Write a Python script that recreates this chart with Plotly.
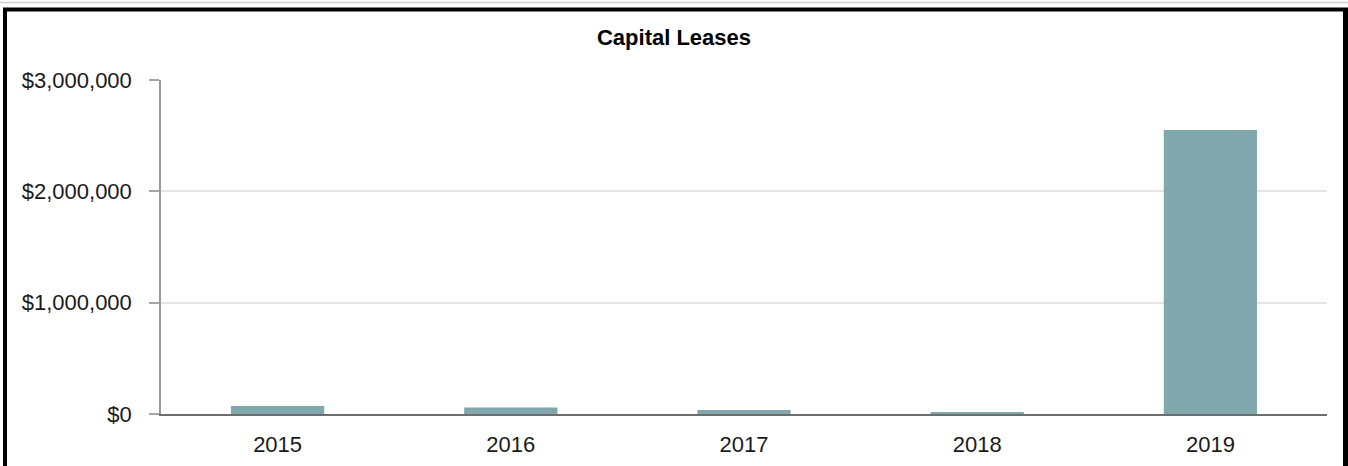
import plotly.graph_objects as go

# Capital lease amounts by fiscal year
years = ["2015", "2016", "2017", "2018", "2019"]
capital_leases = [72000, 58000, 36000, 18000, 2550000]
y_ticks = [0, 1000000, 2000000, 3000000]
y_tick_labels = ["$0", "$1,000,000", "$2,000,000", "$3,000,000"]

W, H = 1348, 466
ML, MR, MT, MB = 161, 21, 80, 52
PW, PH = W - ML - MR, H - MT - MB


def px_x(p):
    return (p - ML) / PW


def px_y(p):
    return (H - MB - p) / PH


font = "Arial, 'Liberation Sans', sans-serif"

fig = go.Figure(
    go.Bar(
        x=years,
        y=capital_leases,
        marker=dict(color="#80a8ad", line=dict(width=0)),
        hovertemplate="%{x}: $%{y:,.0f}<extra></extra>",
    )
)

fig.update_layout(
    width=W,
    height=H,
    margin=dict(l=ML, r=MR, t=MT, b=MB, pad=0, autoexpand=False),
    paper_bgcolor="white",
    plot_bgcolor="white",
    bargap=0.6,
    showlegend=False,
    font=dict(family=font, size=22, color="#1a1a1a"),
    title=dict(
        text="<b>Capital Leases</b>",
        x=0.5,
        xref="container",
        xanchor="center",
        y=1 - 37 / H,
        yref="container",
        yanchor="middle",
        font=dict(family=font, size=22, color="#000000"),
        automargin=False,
    ),
    xaxis=dict(
        automargin=False,
        showgrid=False,
        showline=True,
        linecolor="#6e6e6e",
        linewidth=2,
        ticks="",
        ticklabelstandoff=10,
        tickfont=dict(size=22, color="#1a1a1a"),
        fixedrange=True,
    ),
    yaxis=dict(
        automargin=False,
        range=[0, 3000000],
        tickvals=y_ticks,
        ticktext=y_tick_labels,
        showgrid=True,
        gridcolor="#e6e6e6",
        gridwidth=1.5,
        showline=True,
        linecolor="#999999",
        linewidth=1.5,
        ticks="outside",
        ticklen=10,
        tickcolor="#a6a6a6",
        tickwidth=1.5,
        ticklabelstandoff=13,
        zeroline=False,
        tickfont=dict(size=22, color="#1a1a1a"),
        fixedrange=True,
    ),
)

# Frame around the chart container
frame = [
    dict(x0=px_x(0), x1=px_x(W), y0=px_y(2.5), y1=px_y(2.5), color="#d0d0d0", width=1.5),
    dict(x0=px_x(3), x1=px_x(W), y0=px_y(9.5), y1=px_y(9.5), color="#000000", width=4),
    dict(x0=px_x(5), x1=px_x(5), y0=px_y(8), y1=px_y(H), color="#000000", width=4),
    dict(x0=px_x(1346), x1=px_x(1346), y0=px_y(8), y1=px_y(H), color="#000000", width=6),
]
for f in frame:
    fig.add_shape(
        type="line", xref="paper", yref="paper",
        x0=f["x0"], x1=f["x1"], y0=f["y0"], y1=f["y1"],
        line=dict(color=f["color"], width=f["width"]),
        layer="above",
    )

fig.write_html("out.html", config={"displayModeBar": False})
